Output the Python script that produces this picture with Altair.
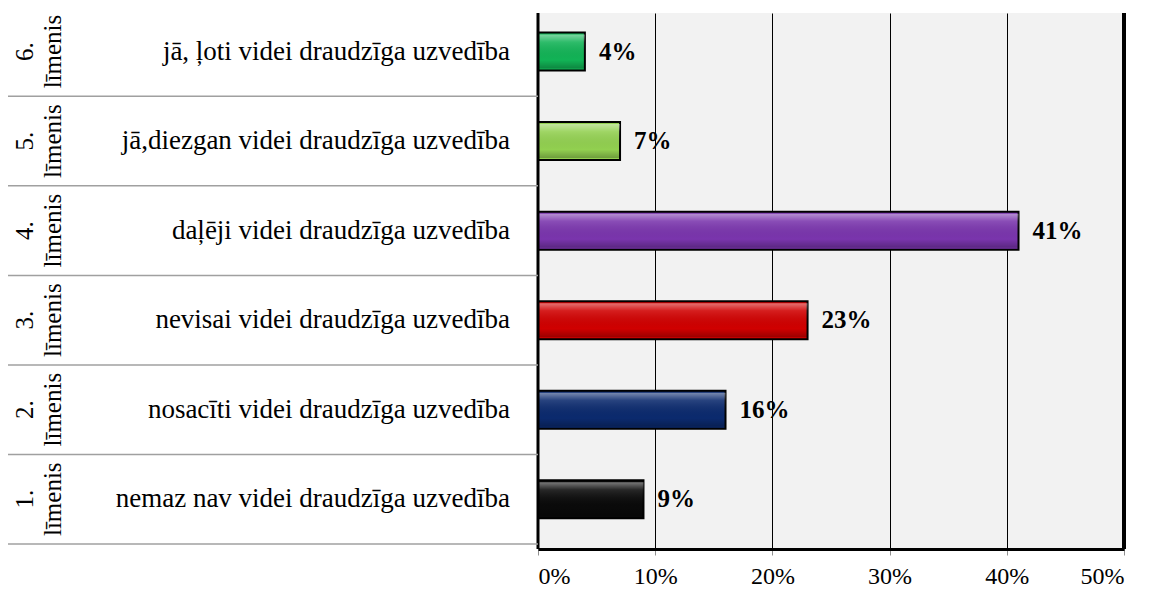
import altair as alt
import pandas as pd

levels = ["1.", "2.", "3.", "4.", "5.", "6."]
labels = [
    "nemaz nav videi draudzīga uzvedība",
    "nosacīti videi draudzīga uzvedība",
    "nevisai videi draudzīga uzvedība",
    "daļēji videi draudzīga uzvedība",
    "jā,diezgan videi draudzīga uzvedība",
    "jā, ļoti videi draudzīga uzvedība",
]
values = [0.09, 0.16, 0.23, 0.41, 0.07, 0.04]
colors = ["#0a0a0a", "#0b2a6e", "#d00000", "#7a35ad", "#92d050", "#12b356"]
row_pos = [1, 2, 3, 4, 5, 6]
separators = [0.5, 1.5, 2.5, 3.5, 4.5, 5.5]
x_ticks = [0, 0.1, 0.2, 0.3, 0.4, 0.5]
borders = [0, 0.5]
border_widths = [3, 4]

df = pd.DataFrame({
    "level": levels,
    "word": ["līmenis"] * 6,
    "label": labels,
    "value": values,
    "color": colors,
    "pos": row_pos,
})
sep_df = pd.DataFrame({"pos": separators})
border_df = pd.DataFrame({"x": borders, "w": border_widths})

FONT = "Liberation Serif"
LEFT = 530

xscale = alt.Scale(domain=[0, 0.5], nice=False, zero=True)
yscale = alt.Scale(domain=[0.5, 6.375], nice=False, zero=False)

base = alt.Chart(df)

bars = base.mark_bar(orient="horizontal", size=38, stroke="black", strokeWidth=2).encode(
    x=alt.X("value:Q", scale=xscale,
            axis=alt.Axis(values=x_ticks, format=".0%", title=None, grid=True,
                          gridColor="#000000", gridWidth=1, gridOpacity=1,
                          domainColor="black", domainWidth=3,
                          tickColor="#909090", tickSize=6, tickWidth=1,
                          labelFont=FONT, labelFontSize=24, labelColor="black",
                          labelPadding=9)),
    y=alt.Y("pos:Q", scale=yscale, axis=None),
    fill=alt.Fill("color:N", scale=None),
)

gloss = base.mark_bar(
    orient="horizontal", size=34,
    fill=alt.LinearGradient(
        gradient="linear", x1=0, y1=0, x2=0, y2=1,
        stops=[
            alt.GradientStop(offset=0, color="rgba(255,255,255,0.45)"),
            alt.GradientStop(offset=0.22, color="rgba(255,255,255,0.12)"),
            alt.GradientStop(offset=0.75, color="rgba(0,0,0,0)"),
            alt.GradientStop(offset=1, color="rgba(0,0,0,0.25)"),
        ],
    ),
).encode(
    x=alt.X("value:Q", scale=xscale),
    y=alt.Y("pos:Q", scale=yscale),
)

value_text = base.mark_text(align="left", baseline="middle", dx=14, font=FONT,
                            fontSize=25, fontWeight="bold", color="black").encode(
    x=alt.X("value:Q", scale=xscale),
    y=alt.Y("pos:Q", scale=yscale),
    text=alt.Text("value:Q", format=".0%"),
)

border_rules = alt.Chart(border_df).mark_rule(color="black").encode(
    x=alt.X("x:Q", scale=xscale),
    strokeWidth=alt.StrokeWidth("w:Q", scale=None),
)

sep_rules = alt.Chart(sep_df).mark_rule(color="#a0a0a0", strokeWidth=1.5).encode(
    y=alt.Y("pos:Q", scale=yscale),
    x=alt.value(-LEFT),
    x2=alt.value(0),
)

cat_text = base.mark_text(align="right", baseline="middle", font=FONT, fontSize=27,
                          color="black").encode(
    x=alt.value(-28),
    y=alt.Y("pos:Q", scale=yscale),
    text="label:N",
)

lvl_text = base.mark_text(align="center", baseline="alphabetic", angle=270, font=FONT,
                          fontSize=25, color="black").encode(
    x=alt.value(-LEFT + 25),
    y=alt.Y("pos:Q", scale=yscale),
    text="level:N",
)

word_text = base.mark_text(align="center", baseline="alphabetic", angle=270, font=FONT,
                           fontSize=25, color="black").encode(
    x=alt.value(-LEFT + 53),
    y=alt.Y("pos:Q", scale=yscale),
    text="word:N",
)

chart = alt.layer(
    bars, gloss, border_rules, value_text, sep_rules, cat_text, lvl_text, word_text
).properties(
    width=586,
    height=536,
    autosize=alt.AutoSizeParams(type="none"),
    padding={"left": LEFT, "top": 5, "right": 22, "bottom": 42},
).configure_view(fill="#f2f2f2", stroke=None)

chart.save("out.html", embed_options={"renderer": "svg", "actions": False})
